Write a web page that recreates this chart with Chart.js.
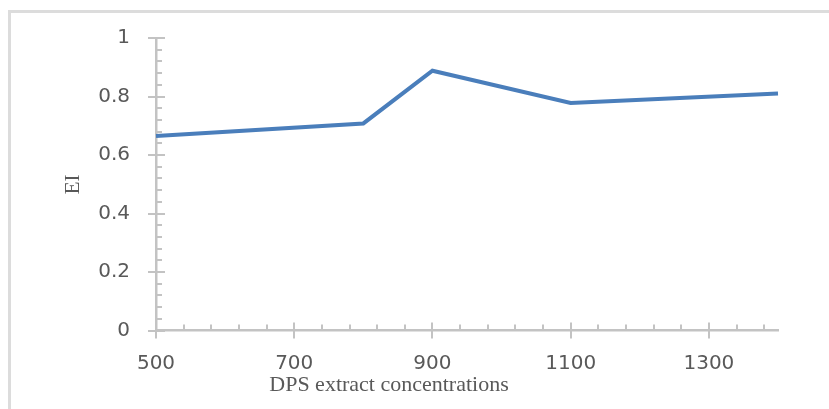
<!DOCTYPE html>
<html><head><meta charset="utf-8">
<script src="https://cdn.jsdelivr.net/npm/chart.js@4"></script>
<style>
html,body{margin:0;padding:0;background:#fff;overflow:hidden;}
canvas{display:block;}
</style></head><body>
<canvas id="c" width="829" height="409"></canvas>
<script>
const concentrations = [500, 800, 900, 1100, 1400];
const eiValues = [0.665, 0.708, 0.888, 0.778, 0.81];
const xTickValues = [500, 700, 900, 1100, 1300];
const xTickLabels = ['500', '700', '900', '1100', '1300'];
const yTickValues = [0, 0.2, 0.4, 0.6, 0.8, 1];
const yTickLabels = ['0', '0.2', '0.4', '0.6', '0.8', '1'];
const xAxisTitle = 'DPS extract concentrations';
const yAxisTitle = 'EI';

const AXIS_COLOR = '#c3c3c3';
const FRAME_COLOR = '#dcdcdc';
const TEXT_COLOR = '#595959';
const X_MINOR = 40, Y_MINOR = 0.04;

const frameAndTicks = {
  id: 'frameAndTicks',
  beforeDraw(chart) {
    const {ctx, width, height} = chart;
    ctx.save();
    ctx.strokeStyle = FRAME_COLOR;
    ctx.lineWidth = 3;
    ctx.beginPath();
    ctx.moveTo(9.5, height);
    ctx.lineTo(9.5, 11.5);
    ctx.lineTo(width, 11.5);
    ctx.stroke();
    ctx.restore();
  },
  beforeDatasetsDraw(chart) {
    const {ctx, scales: {x, y}} = chart;
    const ax = y.right, ay = x.top;
    ctx.save();
    ctx.strokeStyle = AXIS_COLOR;
    ctx.lineWidth = 2;
    ctx.beginPath();
    const nx = Math.floor((x.max - x.min) / X_MINOR + 1e-9);
    for (let i = 0; i <= nx; i++) {
      const v = x.min + i * X_MINOR;
      const px = Math.round(x.getPixelForValue(v));
      if ((v - x.min) % 200 === 0) { ctx.moveTo(px, ay - 8); ctx.lineTo(px, ay + 8); }
      else { ctx.moveTo(px, ay - 6); ctx.lineTo(px, ay); }
    }
    const ny = Math.round((y.max - y.min) / Y_MINOR);
    for (let i = 0; i <= ny; i++) {
      const v = y.min + i * Y_MINOR;
      const py = Math.round(y.getPixelForValue(v));
      if (i % 5 === 0) { ctx.moveTo(ax - 8, py); ctx.lineTo(ax + 9, py); }
      else { ctx.moveTo(ax, py); ctx.lineTo(ax + 6, py); }
    }
    ctx.stroke();
    ctx.restore();
  }
};

new Chart(document.getElementById('c'), {
  type: 'line',
  data: {
    datasets: [{
      data: concentrations.map((c, i) => ({x: c, y: eiValues[i]})),
      borderColor: '#4a7ebb',
      borderWidth: 4,
      pointRadius: 0,
      tension: 0,
      fill: false,
      clip: false
    }]
  },
  options: {
    responsive: false,
    animation: false,
    devicePixelRatio: 1,
    layout: {padding: {left: 0, right: 51, top: 37, bottom: 11}},
    plugins: {
      legend: {display: false},
      tooltip: {enabled: false},
      title: {
        display: true,
        position: 'bottom',
        text: xAxisTitle,
        color: TEXT_COLOR,
        font: {family: 'Liberation Serif', size: 22, weight: 'normal', lineHeight: 1.2},
        padding: {top: 0, bottom: 0}
      }
    },
    scales: {
      x: {
        type: 'linear',
        min: 500,
        max: 1400,
        afterFit: s => { s.height = 41; },
        afterBuildTicks: s => { s.ticks = xTickValues.map(v => ({value: v})); },
        grid: {display: false, drawTicks: false},
        border: {display: true, color: AXIS_COLOR, width: 2.5},
        ticks: {
          color: TEXT_COLOR,
          font: {family: 'DejaVu Sans', size: 20},
          padding: 21,
          maxRotation: 0,
          autoSkip: false,
          callback: (v, i) => xTickLabels[i]
        }
      },
      y: {
        min: 0,
        max: 1,
        afterFit: s => { s.width = 156; },
        afterBuildTicks: s => { s.ticks = yTickValues.map(v => ({value: v})); },
        grid: {display: false, drawTicks: false},
        border: {display: true, color: AXIS_COLOR, width: 2.5},
        ticks: {
          color: TEXT_COLOR,
          font: {family: 'DejaVu Sans', size: 20},
          padding: 26,
          callback: (v, i) => yTickLabels[i]
        },
        title: {
          display: true,
          text: yAxisTitle,
          color: TEXT_COLOR,
          font: {family: 'Liberation Serif', size: 21, weight: 'normal', lineHeight: 1.2},
          padding: {top: 61, bottom: 0}
        }
      }
    }
  },
  plugins: [frameAndTicks]
});
</script>
</body></html>
